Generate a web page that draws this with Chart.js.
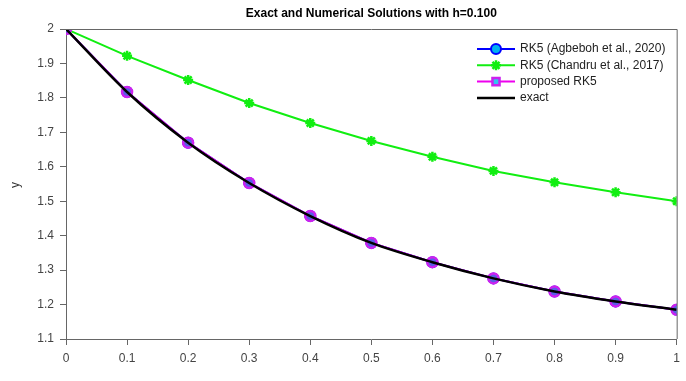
<!DOCTYPE html>
<html>
<head>
<meta charset="utf-8">
<script src="https://cdn.jsdelivr.net/npm/chart.js@4"></script>
<style>
  body { margin: 0; background: #fff; }
  #wrap { width: 686px; height: 381px; position: relative; }
</style>
</head>
<body>
<div id="wrap"><canvas id="chart"></canvas></div>
<script>
var xValues = [0, 0.1, 0.2, 0.3, 0.4, 0.5, 0.6, 0.7, 0.8, 0.9, 1.0];
var exactY = [2.000, 1.817, 1.670, 1.553, 1.457, 1.379, 1.323, 1.276, 1.238, 1.209, 1.185];
var agbebohY = [2.000, 1.817, 1.670, 1.553, 1.457, 1.379, 1.323, 1.276, 1.238, 1.209, 1.185];
var proposedY = [2.000, 1.817, 1.670, 1.553, 1.457, 1.379, 1.323, 1.276, 1.238, 1.209, 1.185];
var chandruY = [2.000, 1.922, 1.852, 1.785, 1.727, 1.675, 1.629, 1.588, 1.555, 1.526, 1.500];
var seriesLabels = ['RK5 (Agbeboh et al., 2020)', 'RK5 (Chandru et al., 2017)', 'proposed RK5', 'exact'];
var titleText = 'Exact and Numerical Solutions with h=0.100';

function pts(ys) {
  var out = [];
  for (var i = 0; i < xValues.length; i++) out.push({x: xValues[i], y: ys[i]});
  return out;
}

var FONT = "'Liberation Sans', Arial, sans-serif";

// title, box, y label and legend inside the plot
var extras = {
  id: 'extras',
  afterDraw: function(chart) {
    var c = chart.ctx, a = chart.chartArea;
    c.save();
    c.strokeStyle = '#666';
    c.lineWidth = 1;
    c.beginPath();
    c.moveTo(a.left, a.top + 0.5);
    c.lineTo(a.right + 0.5, a.top + 0.5);
    c.lineTo(a.right + 0.5, a.bottom);
    c.stroke();

    c.fillStyle = '#000';
    c.font = 'bold 12px ' + FONT;
    c.textAlign = 'center';
    c.textBaseline = 'middle';
    c.fillText(titleText, (a.left + a.right) / 2, 14);

    c.font = '12px ' + FONT;
    c.fillStyle = '#333';
    c.translate(16, 185);
    c.rotate(-Math.PI / 2);
    c.fillText('y', 0, 0);
    c.restore();

    // legend
    c.save();
    var x0 = 477, x1 = 515, tx = 520, y = 49;
    var ds = chart.data.datasets;
    for (var i = 0; i < ds.length; i++) {
      var d = ds[i];
      c.strokeStyle = d.borderColor;
      c.lineWidth = d.borderWidth;
      c.beginPath();
      c.moveTo(x0, y);
      c.lineTo(x1, y);
      c.stroke();
      if (d.pointRadius > 0) {
        c.fillStyle = d.legendFill || d.pointBackgroundColor;
        c.strokeStyle = d.pointBorderColor;
        c.lineWidth = d.pointBorderWidth;
        Chart.helpers.drawPoint(c, {
          pointStyle: d.legendStyle || d.pointStyle,
          radius: d.legendRadius || d.pointRadius,
          borderWidth: d.pointBorderWidth,
          rotation: 0
        }, (x0 + x1) / 2, y);
      }
      c.fillStyle = '#222';
      c.font = '12px ' + FONT;
      c.textAlign = 'left';
      c.textBaseline = 'middle';
      c.fillText(d.label, tx, y);
      y += 16.3;
    }
    c.restore();
  }
};

var chart = new Chart(document.getElementById('chart'), {
  type: 'line',
  data: {
    datasets: [
      {
        label: seriesLabels[0],
        data: pts(agbebohY),
        order: 3,
        borderColor: '#0000ff',
        borderWidth: 2,
        pointStyle: 'circle',
        pointRadius: 5,
        pointBackgroundColor: '#00b0f0',
        pointBorderColor: '#0000ff',
        pointBorderWidth: 2
      },
      {
        label: seriesLabels[1],
        data: pts(chandruY),
        order: 2,
        borderColor: '#11ee11',
        borderWidth: 2,
        pointStyle: 'star',
        pointRadius: 5,
        pointBackgroundColor: '#11ee11',
        pointBorderColor: '#11ee11',
        pointBorderWidth: 2.5
      },
      {
        label: seriesLabels[2],
        data: pts(proposedY),
        order: 1,
        borderColor: '#ee00ee',
        borderWidth: 2,
        pointStyle: 'circle',
        pointRadius: 5,
        legendStyle: 'rect',
        legendRadius: 5,
        legendFill: '#33c4f0',
        pointBackgroundColor: '#5a5ce6',
        pointBorderColor: '#cc22ee',
        pointBorderWidth: 2.5
      },
      {
        label: seriesLabels[3],
        data: pts(exactY),
        order: 0,
        borderColor: '#000000',
        borderWidth: 2.5,
        pointRadius: 0,
        cubicInterpolationMode: 'monotone'
      }
    ]
  },
  options: {
    responsive: true,
    maintainAspectRatio: false,
    animation: false,
    layout: { padding: { left: 0, right: 9, top: 29, bottom: 0 } },
    plugins: {
      legend: { display: false },
      title: { display: false },
      tooltip: { enabled: false }
    },
    scales: {
      x: {
        type: 'linear',
        min: 0,
        max: 1,
        afterFit: function(s) { s.height = 42; },
        border: { color: '#666', width: 1 },
        grid: { drawOnChartArea: false, tickLength: 6, color: '#666' },
        ticks: {
          stepSize: 0.1,
          color: '#444',
          padding: 6,
          font: { family: FONT, size: 12 },
          maxRotation: 0,
          callback: function(v) { return String(Number(v.toFixed(1))); }
        }
      },
      y: {
        type: 'linear',
        min: 1.1,
        max: 2,
        afterFit: function(s) { s.width = 66; },
        border: { color: '#666', width: 1 },
        grid: { drawOnChartArea: false, tickLength: 6, color: '#666' },
        ticks: {
          stepSize: 0.1,
          color: '#444',
          padding: 6,
          font: { family: FONT, size: 12 },
          callback: function(v) { return String(Number(v.toFixed(1))); }
        }
      }
    }
  },
  plugins: [extras]
});
</script>
</body>
</html>
